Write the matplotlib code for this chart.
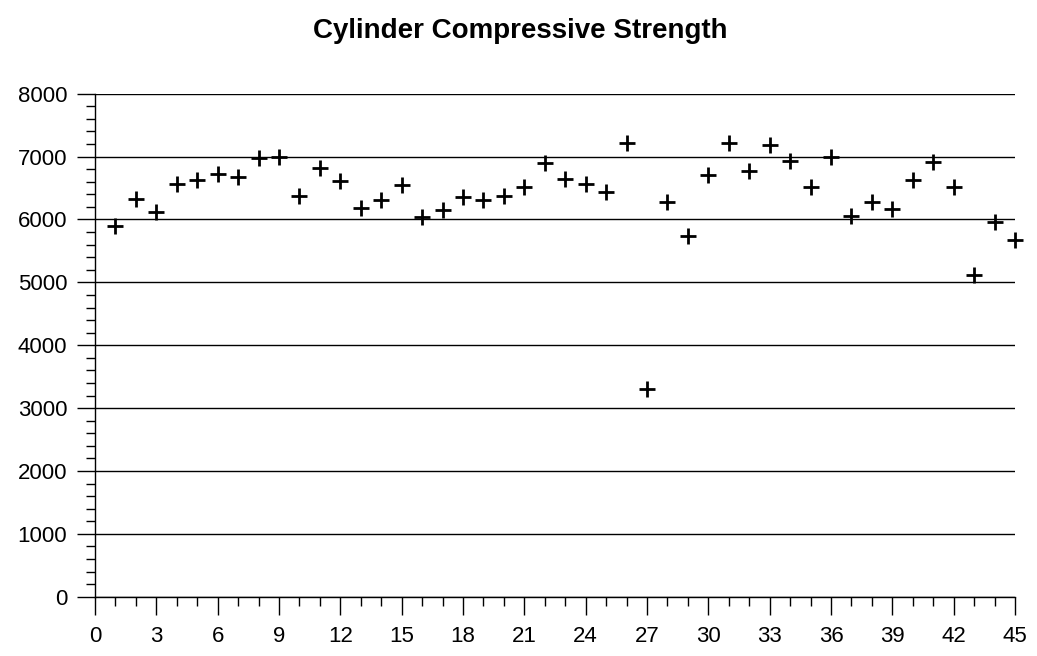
import matplotlib
matplotlib.use("Agg")
import matplotlib.pyplot as plt
from matplotlib.ticker import MultipleLocator

plt.rcParams['font.family'] = ['Liberation Sans', 'DejaVu Sans']

# Cylinder test number and measured compressive strength (psi)
cylinder = list(range(1, 46))
strength = [5900, 6320, 6120, 6560, 6620, 6720, 6680, 6980, 6990, 6380,
            6815, 6610, 6190, 6315, 6550, 6045, 6150, 6365, 6310, 6375,
            6515, 6895, 6650, 6560, 6435, 7210, 3300, 6275, 5730, 6710,
            7210, 6770, 7185, 6935, 6520, 6990, 6050, 6275, 6160, 6620,
            6910, 6515, 5120, 5960, 5680]

x_ticks = list(range(0, 46, 3))
y_ticks = list(range(0, 8001, 1000))

W, H = 1037, 656
fig = plt.figure(figsize=(W / 100, H / 100), dpi=100)
left, right, top, bottom = 95, 1015, 93.7, 596.8
ax = fig.add_axes([left / W, 1 - bottom / H, (right - left) / W, (bottom - top) / H])

ax.plot(cylinder, strength, linestyle='none', marker='+', markersize=11,
        markeredgewidth=2, color='black', clip_on=False, zorder=3)

ax.set_xlim(0, 45)
ax.set_ylim(0, 8000)
ax.set_xticks(x_ticks)
ax.set_yticks(y_ticks)
ax.xaxis.set_minor_locator(MultipleLocator(1))
ax.yaxis.set_minor_locator(MultipleLocator(200))

ax.tick_params(axis='both', which='major', direction='out', length=13,
               width=1, labelsize=16, color='black')
ax.tick_params(axis='both', which='minor', direction='out', length=6.5,
               width=1, color='black')
ax.tick_params(axis='x', pad=8)
ax.tick_params(axis='y', pad=7)

ax.yaxis.grid(True, which='major', color='black', linewidth=1)
ax.set_axisbelow(True)

for side in ('top', 'right'):
    ax.spines[side].set_visible(False)
for side in ('left', 'bottom'):
    ax.spines[side].set_linewidth(1)
    ax.spines[side].set_color('black')

fig.text(520 / W, 1 - 38.3 / H, 'Cylinder Compressive Strength',
         ha='center', va='baseline', fontsize=20, fontweight='bold')

fig.savefig('out.png', dpi=100, facecolor='white')
